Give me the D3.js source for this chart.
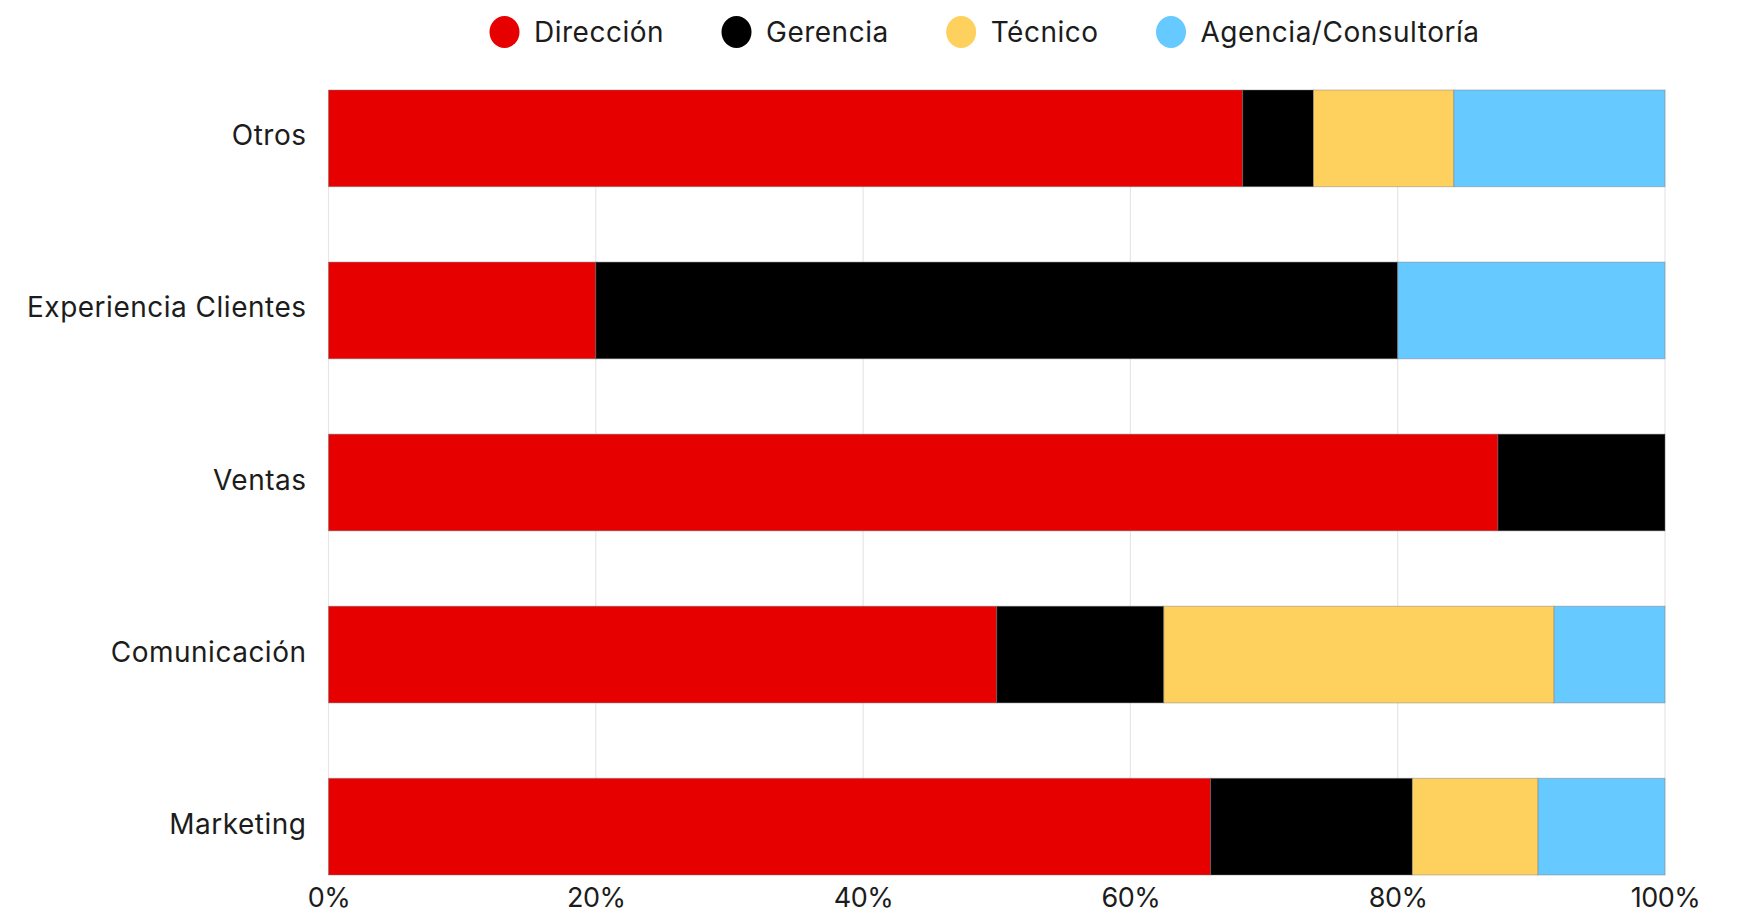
<!DOCTYPE html>
<html>
<head>
<meta charset="utf-8">
<script src="https://cdn.jsdelivr.net/npm/d3@7"></script>
<style>
  html, body { margin: 0; padding: 0; background: #fff; }
  svg text { font-family: Inter, "Noto Sans", sans-serif; fill: #1c1c1c; }
</style>
</head>
<body>
<div id="chart"></div>
<script>
// datos (porcentajes por área)
const areas = ["Otros", "Experiencia Clientes", "Ventas", "Comunicación", "Marketing"];
const roles = ["Dirección", "Gerencia", "Técnico", "Agencia/Consultoría"];
const colores = ["#e60000", "#000000", "#fed15e", "#66c9ff"];

const direccion = [68.4, 20.0, 87.5, 50.0, 66.0];
const gerencia  = [5.3, 60.0, 12.5, 12.5, 15.1];
const tecnico   = [10.5, 0, 0, 29.2, 9.4];
const agencia   = [15.8, 20.0, 0, 8.3, 9.5];

const ticks = [0, 20, 40, 60, 80, 100];

const width = 1740, height = 916;
const margin = { top: 90, right: 75, bottom: 41, left: 328.5 };

const tabla = areas.map((a, i) => ({
    area: a,
    "Dirección": direccion[i],
    "Gerencia": gerencia[i],
    "Técnico": tecnico[i],
    "Agencia/Consultoría": agencia[i]
}));

const series = d3.stack().keys(roles)(tabla);

const svg = d3.select("#chart")
    .append("svg")
    .attr("width", width)
    .attr("height", height);

const x = d3.scaleLinear()
    .domain([0, 100])
    .range([margin.left, width - margin.right]);

const y = d3.scaleBand()
    .domain(areas)
    .range([margin.top, height - margin.bottom])
    .paddingInner(0.438)
    .paddingOuter(0);

const color = d3.scaleOrdinal().domain(roles).range(colores);

// lineas de la cuadricula
svg.append("g")
    .selectAll("line")
    .data(ticks)
    .enter()
    .append("line")
    .attr("x1", d => x(d))
    .attr("x2", d => x(d))
    .attr("y1", margin.top)
    .attr("y2", height - margin.bottom)
    .attr("stroke", "#e6e6e6")
    .attr("stroke-width", 1.2);

// barras apiladas
svg.append("g")
    .selectAll("g")
    .data(series)
    .enter()
    .append("g")
    .attr("fill", d => color(d.key))
    .selectAll("rect")
    .data(d => d.filter(s => s[1] - s[0] > 0))
    .enter()
    .append("rect")
    .attr("x", d => x(d[0]))
    .attr("y", d => y(d.data.area))
    .attr("width", d => x(d[1]) - x(d[0]))
    .attr("height", y.bandwidth())
    .attr("stroke", "rgba(120,120,120,0.45)")
    .attr("stroke-width", 1);

// eje Y (etiquetas)
const ejeY = svg.append("g")
    .attr("transform", `translate(${margin.left - 22},0)`)
    .call(d3.axisLeft(y).tickSize(0).tickPadding(0));
ejeY.select(".domain").remove();
ejeY.selectAll("text")
    .attr("font-size", "28px")
    .attr("letter-spacing", "0.5px")
    .attr("dy", "0.25em");

// eje X (porcentajes)
const ejeX = svg.append("g")
    .attr("transform", `translate(0,${height - margin.bottom})`)
    .call(d3.axisBottom(x).tickValues(ticks).tickFormat(d => d + "%").tickSize(0).tickPadding(13));
ejeX.select(".domain").remove();
ejeX.selectAll("text")
    .attr("font-size", "27px")
    .attr("letter-spacing", "-0.5px")
    .attr("dy", "0.71em");

// leyenda
const leyenda = svg.append("g").attr("transform", "translate(489,32)");
let posX = 0;
roles.forEach((r, i) => {
    const item = leyenda.append("g").attr("transform", `translate(${posX},0)`);
    item.append("ellipse")
        .attr("cx", 15.5)
        .attr("cy", 0)
        .attr("rx", 15)
        .attr("ry", 16)
        .attr("fill", colores[i]);
    const t = item.append("text")
        .attr("x", 45)
        .attr("y", 0)
        .attr("dy", "0.35em")
        .attr("font-size", "28px")
        .attr("letter-spacing", "0.5px")
        .text(r);
    posX += 45 + t.node().getComputedTextLength() + 57;
});
</script>
</body>
</html>
